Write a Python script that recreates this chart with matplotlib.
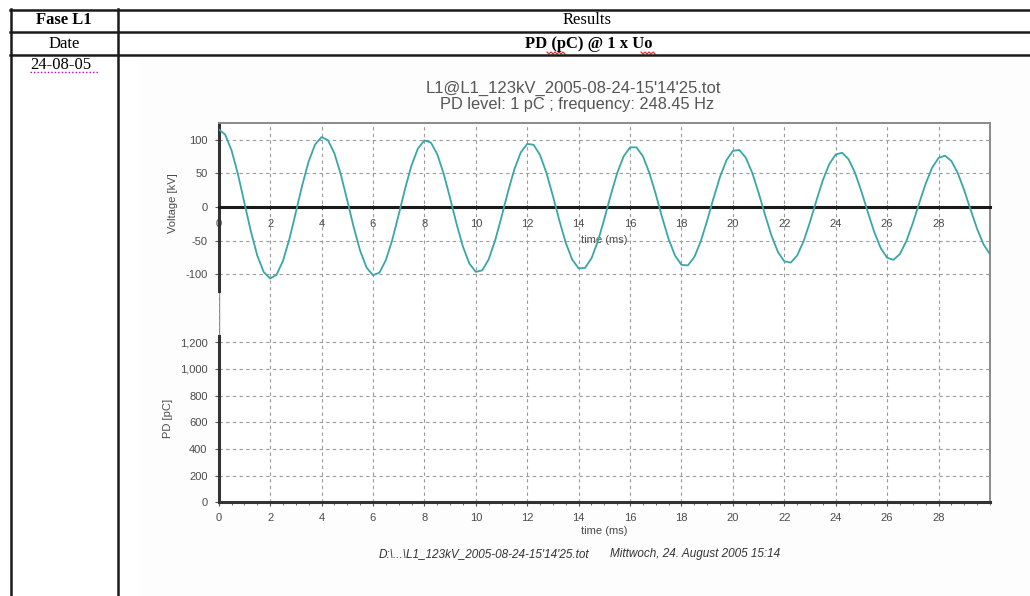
import matplotlib.pyplot as plt
import numpy as np
from matplotlib.lines import Line2D
from matplotlib.patches import Rectangle
from matplotlib.ticker import FuncFormatter, MultipleLocator

# voltage trace, one sample every 0.25 ms from 0 to 30 ms
sample_step_ms = 0.25
voltage_kv = [
    115.9, 108.2, 84.5, 48.7, 6.3, -36.2, -72.4, -97.0,
    -106.8, -101.2, -80.4, -47.7, -8.0, 32.6, 68.2, 93.3,
    104.3, 99.6, 80.0, 48.5, 9.9, -30.0, -65.1, -90.3,
    -101.8, -98.0, -79.5, -49.1, -11.6, 27.4, 62.1, 87.4,
    99.3, 96.3, 78.9, 49.7, 13.3, -24.9, -59.2, -84.4,
    -96.8, -94.6, -78.2, -50.2, -14.8, 22.5, 56.3, 81.5,
    94.2, 92.8, 77.4, 50.6, 16.3, -20.2, -53.5, -78.5,
    -91.6, -90.9, -76.6, -50.9, -17.7, 17.9, 50.7, 75.6,
    89.0, 89.0, 75.7, 51.0, 19.0, -15.8, -47.9, -72.7,
    -86.4, -87.1, -74.7, -51.2, -20.1, 13.7, 45.2, 69.8,
    83.8, 85.1, 73.6, 51.2, 21.2, -11.7, -42.6, -67.0,
    -81.1, -83.0, -72.4, -51.0, -22.2, 9.8, 40.1, 64.2,
    78.5, 80.9, 71.2, 50.9, 23.1, -7.9, -37.6, -61.4,
    -75.8, -78.8, -69.9, -50.6, -23.9, 6.2, 35.1, 58.7,
    73.2, 76.6, 68.5, 50.3, 24.6, -4.5, -32.8, -55.9,
    -70.5,
]
time_ms = np.arange(len(voltage_kv)) * sample_step_ms

# no PD pulses recorded above the 1 pC level
pd_time_ms = []
pd_pc = []

time_ticks = list(range(0, 30, 2))
voltage_ticks = [-100, -50, 0, 50, 100]
pd_ticks = [0, 200, 400, 600, 800, 1000, 1200]

title_1 = "L1@L1_123kV_2005-08-24-15'14'25.tot"
title_2 = "PD level: 1 pC ; frequency: 248.45 Hz"
footer_file = "D:\\...\\L1_123kV_2005-08-24-15'14'25.tot"
footer_date = "Mittwoch, 24. August 2005 15:14"

plt.rcParams['axes.unicode_minus'] = False

W, H = 1030, 596
fig = plt.figure(figsize=(W / 100, H / 100), dpi=100)
fig.patch.set_facecolor('white')


def fx(x):
    return x / W


def fy(y):
    return 1 - y / H


# --- surrounding table ---
fig.add_artist(Rectangle((fx(140), 0), 1 - fx(140), fy(56), color='#fdfdfd', zorder=0))
tbl = dict(color='#1a1a1a', lw=1.8, zorder=5)
for y in (9.5, 32, 55):
    fig.add_artist(Line2D([fx(10), 1], [fy(y), fy(y)], **tbl))
fig.add_artist(Line2D([fx(10.5), fx(10.5)], [fy(9), 0], **tbl))
fig.add_artist(Line2D([fx(117.5), fx(117.5)], [fy(9), 0], **tbl))

serif = 'Liberation Serif'
fig.text(fx(64), fy(20.5), 'Fase L1', family=serif, weight='bold', fontsize=12,
         ha='center', va='center')
fig.text(fx(587), fy(20.5), 'Results', family=serif, fontsize=12,
         ha='center', va='center')
fig.text(fx(64), fy(43.5), 'Date', family=serif, fontsize=12,
         ha='center', va='center')
fig.text(fx(589), fy(43.5), 'PD (pC) @ 1 x Uo', family=serif, weight='bold',
         fontsize=12, ha='center', va='center')
fig.text(fx(30), fy(65), '24-08-05', family=serif, fontsize=12,
         ha='left', va='center')
# word-processor underlines
fig.add_artist(Line2D([fx(30), fx(98)], [fy(72), fy(72)], color='#c000c0',
                      lw=1, ls=(0, (1, 1.5))))
for x0, x1 in ((547, 566), (641, 655)):
    xs = np.arange(x0, x1 + 1, 2)
    ys = 52 + (np.arange(len(xs)) % 2) * 2
    fig.add_artist(Line2D(fx(xs), fy(ys), color='#e02020', lw=0.8))

# --- chart ---
sans = 'Liberation Sans'
plt.rcParams['font.family'] = sans
txt_col = '#4a4a4a'

fig.text(fx(573), fy(88), title_1, fontsize=12, color='#555555', ha='center', va='center')
fig.text(fx(577), fy(105), title_2, fontsize=11.8, color='#555555', ha='center', va='center')

left, right = 218.7, 990
top, mid, bottom = 123.5, 310, 502.3
ax1 = fig.add_axes([fx(left), fy(mid), fx(right - left), (mid - top) / H])
ax2 = fig.add_axes([fx(left), fy(bottom), fx(right - left), (bottom - mid) / H])

grid_kw = dict(color='#9a9a9a', lw=0.8, ls=(0, (3, 3)))

# voltage panel
ax1.plot(time_ms, voltage_kv, color='#3aa6a6', lw=1.3, zorder=4)
ax1.set_xlim(0, 30)
ax1.set_ylim(-153.7, 124.6)
ax1.set_yticks(voltage_ticks)
ax1.set_xticks(time_ticks)
ax1.xaxis.set_minor_locator(MultipleLocator(0.5))
ax1.grid(True, **grid_kw)
ax1.spines['bottom'].set_position(('data', 0))
ax1.spines['bottom'].set_color('#1a1a1a')
ax1.spines['bottom'].set_linewidth(2.2)
ax1.spines['bottom'].set_zorder(3)
ax1.spines['left'].set_color('#333333')
ax1.spines['left'].set_linewidth(2.2)
ax1.spines['left'].set_bounds(-125, 124.6)
ax1.spines['top'].set_color('#8a8a8a')
ax1.spines['top'].set_linewidth(1.4)
ax1.spines['right'].set_color('#8a8a8a')
ax1.spines['right'].set_linewidth(1.4)
ax1.tick_params(axis='x', which='major', length=3, direction='inout', pad=7,
                labelsize=8, labelcolor=txt_col, color='#1a1a1a')
ax1.tick_params(axis='x', which='minor', length=2, direction='inout', color='#1a1a1a')
ax1.tick_params(axis='y', length=3, labelsize=8, labelcolor=txt_col, color='#555555', pad=5)
ax1.set_ylabel('Voltage [kV]', fontsize=8, color=txt_col)
ax1.yaxis.set_label_coords(-0.053, 0.573)
ax1.text(15, -49, 'time (ms)', fontsize=8, color=txt_col, ha='center', va='center')
ax1.axvline(0, color='#8a8a8a', lw=1, zorder=1)

# PD panel
ax2.vlines(pd_time_ms, 0, pd_pc, color='#3aa6a6', lw=1.2)
ax2.set_xlim(0, 30)
ax2.set_ylim(0, 1442)
ax2.set_yticks(pd_ticks)
ax2.yaxis.set_major_formatter(FuncFormatter(lambda v, p: f'{v:,.0f}'))
ax2.set_xticks(time_ticks)
ax2.xaxis.set_minor_locator(MultipleLocator(0.5))
ax2.grid(True, **grid_kw)
ax2.spines['top'].set_visible(False)
ax2.spines['left'].set_color('#333333')
ax2.spines['left'].set_linewidth(2.2)
ax2.spines['left'].set_bounds(0, 1250)
ax2.spines['bottom'].set_color('#333333')
ax2.spines['bottom'].set_linewidth(2.2)
ax2.spines['right'].set_color('#8a8a8a')
ax2.spines['right'].set_linewidth(1.4)
ax2.tick_params(axis='x', which='major', length=3, labelsize=8, labelcolor=txt_col,
                color='#555555', pad=5)
ax2.tick_params(axis='x', which='minor', length=2, color='#555555')
ax2.tick_params(axis='y', length=3, labelsize=8, labelcolor=txt_col, color='#555555', pad=5)
ax2.set_xlabel('time (ms)', fontsize=8, color=txt_col, labelpad=2)
ax2.set_ylabel('PD [pC]', fontsize=8, color=txt_col)
ax2.yaxis.set_label_coords(-0.059, 0.436)
ax2.axvline(0, color='#8a8a8a', lw=1, zorder=1)

fig.text(fx(379), fy(554), footer_file, fontsize=8.5, style='italic', color='#333333',
         ha='left', va='center')
fig.text(fx(610), fy(554), footer_date, fontsize=8.5, style='italic', color='#333333',
         ha='left', va='center')

fig.savefig('out.png', dpi=100)
